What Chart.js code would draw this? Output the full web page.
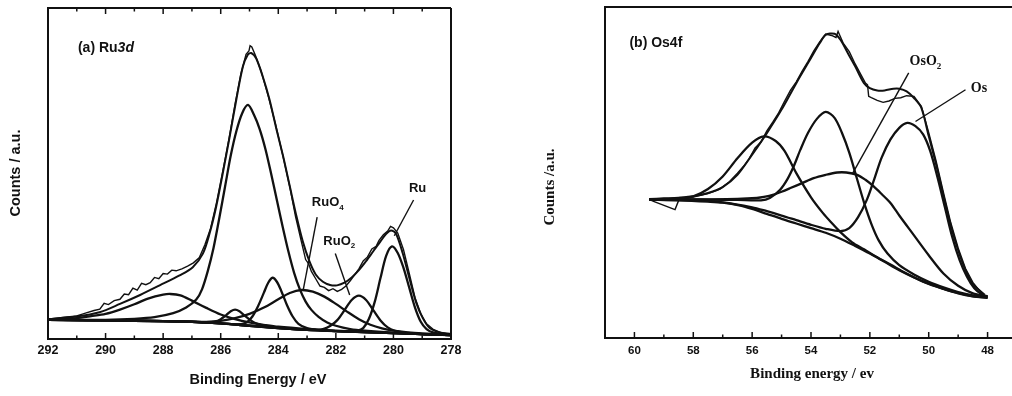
<!DOCTYPE html>
<html>
<head>
<meta charset="utf-8">
<script src="https://cdn.jsdelivr.net/npm/chart.js@4.4.1/dist/chart.umd.min.js"></script>
<style>
  html, body { margin: 0; padding: 0; background: #fff; }
  #wrap { position: relative; width: 1012px; height: 396px; }
  .panel { position: absolute; top: 0; width: 506px; height: 396px; }
</style>
</head>
<body>
<div id="wrap">
  <div class="panel" style="left:0"><canvas id="ruChart"></canvas></div>
  <div class="panel" style="left:506px"><canvas id="osChart"></canvas></div>
</div>
<script>
// ---------------------------------------------------------------
// (a) Ru3d  - binding energy (eV) vs counts (arbitrary units)
// ---------------------------------------------------------------
const ruTicks = [278, 279, 280, 281, 282, 283, 284, 285, 286, 287, 288, 289, 290, 291, 292];

const ruBackground = [[278,1.2],[279,1.5],[280,1.8],[281,2.1],[282,2.4],[283,2.8],[284,3.3],[285,4.0],[286,4.7],[287,5.2],[288,5.4],[289,5.5],[290,5.6],[291,5.7],[292,5.8]];

const ruEnvelope = [[278.0,1.5],[278.4,2.0],[278.75,3.4],[278.98,6.3],[279.21,11.0],[279.45,18.5],[279.68,26.0],[279.91,31.8],[280.08,32.8],[280.25,31.8],[280.45,29.5],[280.7,26.5],[280.95,23.5],[281.2,20.8],[281.45,18.6],[281.7,17.0],[281.96,16.2],[282.2,16.3],[282.45,17.3],[282.7,19.5],[282.92,23.5],[283.15,29.5],[283.38,37.5],[283.61,46.5],[283.84,55.5],[284.08,64.0],[284.31,72.5],[284.54,79.3],[284.77,84.8],[284.94,86.4],[285.06,85.9],[285.23,82.3],[285.46,72.2],[285.69,61.1],[285.93,50.0],[286.16,39.9],[286.39,31.8],[286.62,25.8],[286.97,21.7],[287.43,19.2],[288.12,16.2],[288.8,13.3],[289.5,10.6],[290.21,8.1],[291.02,6.8],[292.0,6.0]];

const ruRaw = [[278.0,1.4],[278.3,1.8],[278.6,2.8],[278.85,4.6],[279.05,7.6],[279.25,12.5],[279.45,19.8],[279.65,27.0],[279.85,32.0],[280.0,33.6],[280.1,34.0],[280.2,32.6],[280.35,31.5],[280.5,29.8],[280.6,28.0],[280.75,27.2],[280.9,24.8],[281.05,23.6],[281.2,21.2],[281.35,19.4],[281.5,17.6],[281.65,16.0],[281.8,15.0],[281.95,14.4],[282.1,15.2],[282.25,14.6],[282.4,15.6],[282.55,16.0],[282.7,18.2],[282.85,20.4],[282.95,22.8],[283.05,24.0],[283.2,29.5],[283.4,37.0],[283.6,46.0],[283.85,55.8],[284.1,65.0],[284.35,73.5],[284.6,81.0],[284.8,85.8],[284.92,88.2],[284.98,88.6],[285.02,87.0],[285.12,86.0],[285.3,80.0],[285.5,71.0],[285.7,61.0],[285.92,51.0],[286.15,41.0],[286.35,33.5],[286.55,28.5],[286.75,24.5],[286.95,23.0],[287.15,22.0],[287.35,21.2],[287.55,20.6],[287.7,20.8],[287.85,19.6],[288.0,19.8],[288.15,18.2],[288.3,18.6],[288.45,17.0],[288.6,16.4],[288.75,16.8],[288.9,14.8],[289.05,15.4],[289.2,13.4],[289.35,13.6],[289.5,12.0],[289.7,11.6],[289.9,10.4],[290.05,10.8],[290.2,9.0],[290.4,8.6],[290.7,7.8],[291.0,7.0],[291.4,6.6],[291.8,6.2],[292.0,6.0]];

const ruMain = [[278,1.3],[279,1.5],[280,1.9],[281,2.5],[281.5,3.0],[282,4.0],[282.3,5.0],[282.6,6.7],[282.85,8.8],[283.05,11.3],[283.25,15.0],[283.45,20.0],[283.65,26.5],[283.85,34.0],[284.05,42.0],[284.25,50.0],[284.45,57.5],[284.65,63.5],[284.85,67.8],[285.05,70.7],[285.25,68.3],[285.45,63.0],[285.65,55.5],[285.85,46.0],[286.05,36.5],[286.25,27.5],[286.45,20.5],[286.65,15.0],[286.85,11.9],[287.2,9.5],[287.65,7.8],[288.3,6.6],[289,6.1],[290,5.8],[291,5.8],[292,5.8]];

const ruPeak284 = [[278,1.2],[280,1.8],[281,2.1],[282,2.4],[282.5,2.7],[283,3.3],[283.3,4.6],[283.5,6.8],[283.7,10.3],[283.9,14.6],[284.05,17.3],[284.2,18.5],[284.35,17.0],[284.5,14.0],[284.7,10.0],[284.9,6.8],[285.1,5.0],[285.4,4.4],[286,4.7],[287,5.2],[288,5.4],[290,5.6],[292,5.8]];

const ruPeak285 = [[278,1.2],[280,1.8],[282,2.4],[283,2.8],[284,3.4],[284.5,4.0],[284.8,4.8],[285.0,5.9],[285.2,7.3],[285.35,8.4],[285.5,8.9],[285.65,8.4],[285.8,7.3],[286.0,6.0],[286.2,5.3],[286.5,5.1],[287,5.2],[288,5.4],[290,5.6],[292,5.8]];

const ruPeak288 = [[278,1.2],[280,1.8],[281,2.1],[282,2.5],[283,3.0],[284,3.7],[284.5,4.3],[285,5.0],[285.5,6.0],[286,7.4],[286.5,9.4],[287,11.6],[287.4,13.2],[287.75,13.6],[288,13.4],[288.5,12.3],[289,10.5],[289.5,8.9],[290,7.6],[290.5,6.9],[291,6.3],[292,5.9]];

const ruRuO4 = [[278,1.3],[279,1.7],[279.5,2.0],[280,2.5],[280.4,3.2],[280.8,4.3],[281.2,6.0],[281.6,8.2],[282.0,10.6],[282.4,12.8],[282.8,14.3],[283.2,14.8],[283.6,13.9],[284.0,12.0],[284.5,9.5],[285.0,7.6],[285.5,6.3],[286.0,5.5],[286.5,5.2],[287,5.3],[288,5.4],[290,5.6],[292,5.8]];

const ruRuO2 = [[278,1.2],[279,1.5],[279.6,1.9],[279.95,2.5],[280.2,3.5],[280.45,5.6],[280.7,8.7],[280.95,11.8],[281.2,13.1],[281.45,11.8],[281.7,8.7],[281.95,5.7],[282.2,3.9],[282.45,3.0],[282.8,2.7],[283.5,3.0],[284,3.3],[285,4.0],[286,4.7],[287,5.2],[288,5.4],[290,5.6],[292,5.8]];

const ruMetal = [[278,1.3],[278.3,1.5],[278.6,1.9],[278.85,3.0],[279.05,5.2],[279.25,9.5],[279.45,15.5],[279.65,21.5],[279.85,26.0],[280.05,28.0],[280.25,25.2],[280.45,18.4],[280.65,11.2],[280.85,6.1],[281.05,3.3],[281.25,2.5],[281.6,2.3],[282,2.4],[283,2.8],[284,3.3],[285,4.0],[286,4.7],[287,5.2],[288,5.4],[290,5.6],[292,5.8]];

// ---------------------------------------------------------------
// (b) Os4f
// ---------------------------------------------------------------
const osTicks = [48, 49, 50, 51, 52, 53, 54, 55, 56, 57, 58, 59, 60, 61];

const osBackground = [[48.0,12.1],[48.5,12.6],[49.0,13.5],[49.5,14.8],[50.0,16.3],[50.5,18.3],[51.0,20.5],[51.5,23.0],[52.0,25.5],[52.5,27.8],[53.0,30.0],[53.5,31.8],[54.0,33.2],[54.5,34.6],[55.0,36.0],[55.5,37.5],[56.0,39.0],[56.4,40.0],[57.0,40.9],[57.5,41.2],[58.5,41.6],[59.5,41.8]];

const osEnvelope = [[48.1,13.1],[48.25,14.2],[48.5,16.3],[48.75,20.5],[49.0,26.5],[49.25,34.0],[49.5,43.0],[49.75,52.5],[50.0,61.0],[50.25,69.5],[50.5,72.5],[50.75,74.5],[51.0,75.3],[51.2,75.3],[51.5,74.8],[51.75,74.8],[52.0,75.5],[52.2,77.0],[52.5,82.1],[52.75,86.1],[53.0,90.1],[53.2,91.9],[53.5,91.6],[53.7,89.1],[54.0,84.6],[54.5,77.0],[55.0,69.0],[55.5,61.9],[56.0,55.4],[56.5,49.3],[57.0,45.6],[57.5,43.8],[58.0,42.8],[58.5,42.4],[59.0,42.2],[59.5,42.0]];

const osRaw = [[48.05,12.4],[48.15,13.0],[48.3,14.6],[48.5,16.8],[48.75,21.0],[49.0,27.2],[49.25,34.8],[49.5,44.0],[49.75,53.5],[50.0,62.0],[50.25,70.0],[50.5,73.0],[50.75,73.2],[50.95,72.6],[51.15,72.4],[51.35,71.6],[51.55,71.2],[51.75,71.8],[51.95,72.6],[52.04,73.0],[52.08,76.5],[52.15,77.0],[52.3,79.5],[52.5,82.8],[52.7,86.5],[52.9,89.0],[53.0,91.0],[53.08,92.6],[53.15,90.8],[53.3,91.4],[53.5,91.8],[53.7,89.5],[53.9,86.8],[54.1,83.6],[54.3,80.6],[54.5,77.4],[54.7,74.8],[54.9,71.5],[55.1,68.0],[55.3,65.2],[55.5,62.6],[55.7,59.2],[55.9,57.4],[56.1,54.2],[56.3,51.8],[56.5,49.8],[56.8,47.0],[57.1,45.0],[57.5,43.6],[58.0,42.6],[58.3,42.2],[58.5,41.5],[58.62,38.8],[59.35,41.3],[59.5,41.9]];

const osPeak556 = [[48.0,12.2],[48.4,12.5],[48.8,13.2],[49.3,14.3],[49.8,15.8],[50.3,17.5],[50.8,19.7],[51.3,22.2],[51.8,24.6],[52.2,26.8],[52.6,28.9],[53.0,32.0],[53.3,34.8],[53.6,37.8],[54.0,42.5],[54.5,49.8],[54.9,56.5],[55.2,59.5],[55.6,60.9],[56.0,59.0],[56.5,54.3],[57.0,48.8],[57.5,45.0],[58.0,42.8],[58.5,42.2],[59.5,41.9]];

const osPeak535 = [[48.0,12.3],[48.5,12.9],[49.0,13.9],[49.5,15.3],[50.0,17.0],[50.5,19.2],[51.0,22.0],[51.4,25.5],[51.7,29.5],[51.95,34.5],[52.2,41.0],[52.45,48.5],[52.7,56.0],[52.95,62.0],[53.2,66.5],[53.5,68.3],[53.8,66.2],[54.1,62.0],[54.36,56.9],[54.59,51.8],[54.8,48.0],[55.05,44.8],[55.4,42.3],[55.7,41.6],[56.5,41.7],[57.5,41.8],[58.5,41.9],[59.5,41.9]];

const osOsO2 = [[48.0,12.5],[48.5,13.5],[49.0,15.8],[49.5,19.5],[50.0,25.0],[50.5,31.0],[51.0,37.0],[51.3,40.8],[51.6,43.5],[51.87,45.8],[52.15,47.8],[52.43,49.3],[52.8,50.0],[53.11,50.0],[53.5,49.3],[53.91,48.3],[54.3,46.8],[54.7,45.3],[55.0,44.2],[55.27,43.3],[55.6,42.6],[55.84,42.3],[56.5,42.0],[57.5,41.9],[58.5,41.9],[59.5,41.9]];

const osMetal = [[48.0,12.6],[48.2,13.2],[48.45,15.0],[48.7,18.5],[48.95,23.5],[49.2,30.5],[49.45,39.5],[49.7,48.5],[49.95,56.5],[50.19,61.5],[50.45,64.0],[50.73,65.0],[51.0,63.5],[51.3,60.0],[51.6,54.5],[51.85,48.0],[52.1,41.8],[52.4,36.5],[52.7,33.2],[53.0,32.3],[53.5,33.0],[54.0,34.2],[54.5,35.6],[55.0,37.0],[55.5,38.3],[56.0,39.5],[57.0,41.0],[58.0,41.6],[59.5,41.8]];

// ---------------------------------------------------------------
const INK = '#111';
const SANS = '"Liberation Sans", Arial, sans-serif';
const SERIF = '"Liberation Serif", "Times New Roman", serif';

function pts(arr) {
  return arr.map(p => ({ x: p[0], y: p[1] }));
}

function curve(arr, width, tension) {
  return {
    data: pts(arr),
    showLine: true,
    borderColor: INK,
    borderWidth: width,
    pointRadius: 0,
    pointHoverRadius: 0,
    tension: tension,
    fill: false
  };
}

function partFont(p, fam, size) {
  const s = p.sub ? Math.round(size * 0.62) : size;
  return (p.italic ? 'italic ' : '') + 'bold ' + s + 'px ' + fam;
}

function drawParts(ctx, parts, x, y, align, fam, size) {
  let w = 0;
  parts.forEach(p => {
    ctx.font = partFont(p, fam, size);
    p.w = ctx.measureText(p.t).width;
    w += p.w;
  });
  let cx = align === 'center' ? x - w / 2 : x;
  parts.forEach(p => {
    ctx.font = partFont(p, fam, size);
    ctx.fillText(p.t, cx, y + (p.sub ? size * 0.38 : 0));
    cx += p.w;
  });
}

// frame, inward ticks, axis titles and peak labels
const decor = {
  id: 'decor',
  afterDatasetsDraw(chart, args, o) {
    const { ctx, chartArea: a, scales: { x, y } } = chart;
    ctx.save();
    ctx.strokeStyle = INK;
    ctx.fillStyle = INK;
    ctx.lineWidth = 2;
    ctx.beginPath();
    ctx.moveTo(a.right, a.top);
    ctx.lineTo(a.left, a.top);
    ctx.lineTo(a.left, a.bottom);
    ctx.lineTo(a.right, a.bottom);
    if (o.rightBorder) ctx.lineTo(a.right, a.top);
    ctx.stroke();

    ctx.lineWidth = 1.5;
    x.ticks.forEach(t => {
      const px = x.getPixelForValue(t.value);
      const len = t.value % 2 === 0 ? 6 : 3.5;
      ctx.beginPath();
      ctx.moveTo(px, a.bottom);
      ctx.lineTo(px, a.bottom - len);
      if (o.topTicks) {
        ctx.moveTo(px, a.top);
        ctx.lineTo(px, a.top + len);
      }
      ctx.stroke();
    });

    // leader lines
    ctx.lineWidth = 1.4;
    (o.leaders || []).forEach(l => {
      ctx.beginPath();
      ctx.moveTo(x.getPixelForValue(l[0][0]), y.getPixelForValue(l[0][1]));
      ctx.lineTo(x.getPixelForValue(l[1][0]), y.getPixelForValue(l[1][1]));
      ctx.stroke();
    });

    ctx.textBaseline = 'middle';
    ctx.textAlign = 'left';
    (o.labels || []).forEach(n => {
      drawParts(ctx, n.parts, x.getPixelForValue(n.x), y.getPixelForValue(n.y), n.align, n.family, n.size);
    });

    // axis titles
    ctx.textAlign = 'center';
    ctx.font = o.titleFont;
    ctx.fillText(o.xTitle.text, o.xTitle.px, o.xTitle.py);
    ctx.translate(o.yTitle.px, o.yTitle.py);
    ctx.rotate(-Math.PI / 2);
    ctx.fillText(o.yTitle.text, 0, 0);
    ctx.restore();
  }
};

function makeChart(id, cfg) {
  return new Chart(document.getElementById(id), {
    type: 'scatter',
    data: { datasets: cfg.datasets },
    options: {
      responsive: true,
      maintainAspectRatio: false,
      animation: false,
      events: [],
      layout: { padding: cfg.padding },
      plugins: {
        legend: { display: false },
        tooltip: { enabled: false },
        decor: cfg.decor
      },
      scales: {
        x: {
          type: 'linear',
          reverse: true,
          min: cfg.xMin,
          max: cfg.xMax,
          afterBuildTicks: s => { s.ticks = cfg.ticks.map(v => ({ value: v })); },
          afterFit: s => { s.height = cfg.xHeight; },
          grid: { display: false, drawTicks: false },
          border: { display: false },
          ticks: {
            autoSkip: false,
            maxRotation: 0,
            padding: cfg.tickPad,
            color: INK,
            font: { family: SANS, size: cfg.tickSize, weight: 'bold' },
            callback: v => (v % 2 === 0 ? String(v) : '')
          }
        },
        y: { display: false, min: 0, max: 100 }
      }
    },
    plugins: [decor]
  });
}

makeChart('ruChart', {
  xMin: 278, xMax: 292, ticks: ruTicks,
  padding: { left: 48, right: 55, top: 8, bottom: 0 },
  xHeight: 57, tickPad: 4, tickSize: 12.5,
  datasets: [
    curve(ruBackground, 2.3, 0.3),
    curve(ruPeak288, 2.3, 0.3),
    curve(ruPeak285, 2.3, 0.3),
    curve(ruPeak284, 2.3, 0.3),
    curve(ruRuO4, 2.3, 0.3),
    curve(ruRuO2, 2.3, 0.3),
    curve(ruMetal, 2.3, 0.3),
    curve(ruMain, 2.3, 0.3),
    curve(ruEnvelope, 2, 0.3),
    curve(ruRaw, 1.4, 0)
  ],
  decor: {
    rightBorder: true,
    topTicks: true,
    titleFont: 'bold 14.5px ' + SANS,
    xTitle: { text: 'Binding Energy / eV', px: 258, py: 380 },
    yTitle: { text: 'Counts / a.u.', px: 16, py: 173 },
    leaders: [
      [[282.65, 36.8], [283.13, 15.0]],
      [[282.02, 25.8], [281.52, 13.3]],
      [[279.3, 42.0], [279.97, 31.2]]
    ],
    labels: [
      { parts: [{ t: '(a) Ru' }, { t: '3d', italic: true }], x: 290.96, y: 87.9, align: 'left', family: SANS, size: 14 },
      { parts: [{ t: 'RuO' }, { t: '4', sub: true }], x: 282.28, y: 41.2, align: 'center', family: SANS, size: 13 },
      { parts: [{ t: 'RuO' }, { t: '2', sub: true }], x: 281.88, y: 29.6, align: 'center', family: SANS, size: 13 },
      { parts: [{ t: 'Ru' }], x: 279.16, y: 45.6, align: 'center', family: SANS, size: 13 }
    ]
  }
});

makeChart('osChart', {
  xMin: 47.17, xMax: 61, ticks: osTicks,
  padding: { left: 99, right: 0, top: 7, bottom: 0 },
  xHeight: 58, tickPad: 6, tickSize: 11.5,
  datasets: [
    curve(osBackground, 2.3, 0.3),
    curve(osPeak556, 2.3, 0.3),
    curve(osPeak535, 2.3, 0.3),
    curve(osOsO2, 2.3, 0.3),
    curve(osMetal, 2.3, 0.3),
    curve(osEnvelope, 2, 0.3),
    curve(osRaw, 1.4, 0)
  ],
  decor: {
    rightBorder: false,
    topTicks: false,
    titleFont: 'bold 15px ' + SERIF,
    xTitle: { text: 'Binding energy / ev', px: 306, py: 374 },
    yTitle: { text: 'Counts /a.u.', px: 44, py: 187 },
    leaders: [
      [[50.68, 80.1], [52.6, 49.5]],
      [[48.75, 75.0], [50.45, 65.4]]
    ],
    labels: [
      { parts: [{ t: '(b) Os4f' }], x: 60.17, y: 89.1, align: 'left', family: SANS, size: 14 },
      { parts: [{ t: 'OsO' }, { t: '2', sub: true }], x: 50.11, y: 83.6, align: 'center', family: SERIF, size: 14 },
      { parts: [{ t: 'Os' }], x: 48.29, y: 75.5, align: 'center', family: SERIF, size: 14 }
    ]
  }
});
</script>
</body>
</html>
